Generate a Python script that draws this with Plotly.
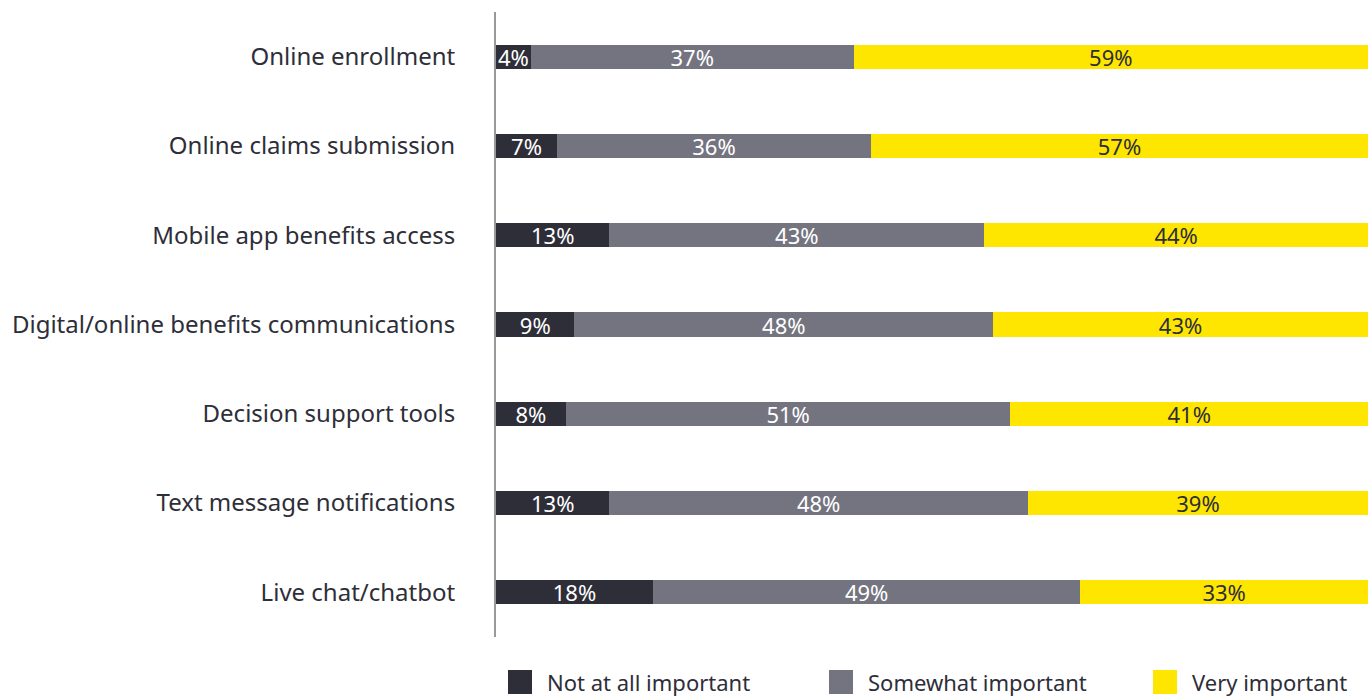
import plotly.graph_objects as go

categories = [
    "Online enrollment",
    "Online claims submission",
    "Mobile app benefits access",
    "Digital/online benefits communications",
    "Decision support tools",
    "Text message notifications",
    "Live chat/chatbot",
]
not_at_all = [4, 7, 13, 9, 8, 13, 18]
somewhat = [37, 36, 43, 48, 51, 48, 49]
very = [59, 57, 44, 43, 41, 39, 33]
series_names = ["Not at all important", "Somewhat important", "Very important"]

colors = ["#2E2E38", "#747480", "#FFE600"]
text_colors = ["#FFFFFF", "#FFFFFF", "#2E2E38"]
FONT = "Noto Sans"

W, H = 1370, 696
ML, MR, MT, MB = 496, 2, 12, 59

fig = go.Figure()
for name, vals, c, tc in zip(series_names, [not_at_all, somewhat, very], colors, text_colors):
    fig.add_trace(go.Bar(
        y=categories, x=vals, name=name, orientation="h",
        marker=dict(color=c, line=dict(width=0)),
        text=[f"{v}%" for v in vals],
        textposition="inside", insidetextanchor="middle",
        textangle=0, constraintext="none",
        textfont=dict(family=FONT, size=22, color=tc),
        showlegend=False, hoverinfo="x+y",
    ))

# custom legend (squares + labels) below the plot
pw = W - ML - MR
ph = H - MT - MB
legend_x = [508, 829, 1153]
sq = 24
sq_top = 670
for name, c, lx in zip(series_names, colors, legend_x):
    fig.add_shape(type="rect", xref="paper", yref="paper",
                  x0=(lx - ML) / pw, x1=(lx + sq - ML) / pw,
                  y0=(H - MB - sq_top - sq) / ph, y1=(H - MB - sq_top) / ph,
                  fillcolor=c, line=dict(width=0))
    fig.add_annotation(xref="paper", yref="paper",
                       x=(lx + sq + 13 - ML) / pw, y=(H - MB - (sq_top + sq / 2)) / ph,
                       text=name, showarrow=False, xanchor="left", yanchor="middle",
                       font=dict(family=FONT, size=22, color="#2E2E38"))

fig.update_layout(
    barmode="stack", bargap=0.73,
    width=W, height=H,
    margin=dict(l=ML, r=MR, t=MT, b=MB),
    paper_bgcolor="white", plot_bgcolor="white",
    font=dict(family=FONT, color="#2E2E38"),
    xaxis=dict(range=[0, 100], visible=False, fixedrange=True),
    yaxis=dict(autorange="reversed", showline=True, linecolor="#999999", linewidth=2,
               ticks="", ticklabelstandoff=34, showgrid=False,
               tickfont=dict(family=FONT, size=24, color="#2E2E38")),
)

fig.write_html("out.html", config={"displayModeBar": False},
               post_script="document.body.style.margin='0';document.body.style.overflow='hidden';")
